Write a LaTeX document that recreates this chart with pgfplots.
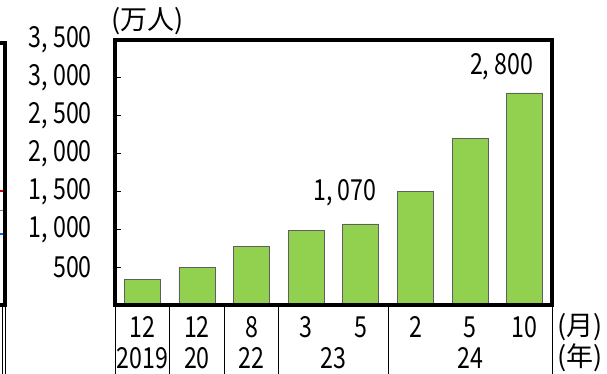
\documentclass[border=0pt]{standalone}
\usepackage{fontspec}
\usepackage{pgfplots}
\pgfplotsset{compat=1.18}
\setmainfont{Noto Sans CJK JP}[FakeStretch=0.8]
\newfontfamily\cjkf{Noto Sans CJK JP}
\newcommand\cjk{\cjkf\fontsize{27}{30}\selectfont}
\definecolor{bargreen}{RGB}{146,208,80}
\definecolor{baredge}{RGB}{95,95,95}
\begin{document}
\fontsize{29}{32}\selectfont
\begin{tikzpicture}
\useasboundingbox (-115pt,-69pt) rectangle (492pt,305pt);
\clip (-115pt,-69pt) rectangle (492pt,305pt);
% partial neighbouring chart on the left edge
\begin{axis}[at={(-110pt,0pt)}, anchor=south east, scale only axis,
  width=200pt, height=262pt, xmin=0, xmax=1, ymin=0, ymax=262,
  axis line style={line width=3.5pt}, ticks=none, clip=false, axis on top]
\addplot[gray, line width=0.6pt] coordinates {(0,95) (1,95)};
\addplot[red!85!black, line width=2.5pt] coordinates {(0.9,114) (1,114)};
\addplot[blue!60!cyan, line width=2.5pt] coordinates {(0.9,71) (1,71)};
\end{axis}
\draw[line width=0.8pt] (-110pt,0) -- (-110pt,-69pt);
\draw[line width=0.8pt] (-113pt,0) -- (-113pt,-69pt);
% main chart
\begin{axis}[at={(0pt,0pt)}, anchor=south west, scale only axis,
  width=437pt, height=265pt,
  xmin=-0.5, xmax=7.5, ymin=0, ymax=3500,
  ybar, bar width=36pt,
  axis line style={line width=3.5pt},
  axis on top, clip=false,
  xtick={0,...,7},
  xticklabels={12,12,8,3,5,2,5,10},
  x tick style={draw=none},
  xticklabel style={anchor=center, inner sep=0pt, yshift=-22pt},
  ytick={500,1000,1500,2000,2500,3000,3500},
  yticklabels={500,{1, 000},{1, 500},{2, 000},{2, 500},{3, 000},{3, 500}},
  ytick pos=left, tick align=inside, major tick length=6pt,
  y tick style={black, line width=0.8pt},
  yticklabel style={anchor=east, inner sep=0pt, xshift=-23pt},
]
\addplot[fill=bargreen, draw=baredge, line width=0.8pt]
  coordinates {(0,340) (1,495) (2,770) (3,990) (4,1070) (5,1500) (6,2200) (7,2800)};
\node at (axis cs:4,1070) [xshift=-16pt, yshift=31pt] {1, 070};
\node at (axis cs:7,2800) [xshift=-23pt, yshift=26pt] {2, 800};
\pgfplotsinvokeforeach{-0.5,0.5,1.5,2.5,4.5,7.5}{
  \draw[line width=0.8pt] (axis cs:#1,0) -- ([yshift=-69pt]axis cs:#1,0);
}
\node at (axis cs:0,0) [yshift=-53pt] {2019};
\node at (axis cs:1,0) [yshift=-53pt] {20};
\node at (axis cs:2,0) [yshift=-53pt] {22};
\node at (axis cs:3.5,0) [yshift=-53pt] {23};
\node at (axis cs:6,0) [yshift=-53pt] {24};
\node at (rel axis cs:1,0) [xshift=28pt, yshift=-22pt] {\cjk (月)};
\node at (rel axis cs:1,0) [xshift=28pt, yshift=-53pt] {\cjk (年)};
\node at (rel axis cs:0,1) [xshift=33pt, yshift=19pt] {\cjk (万人)};
\end{axis}
\end{tikzpicture}
\end{document}
